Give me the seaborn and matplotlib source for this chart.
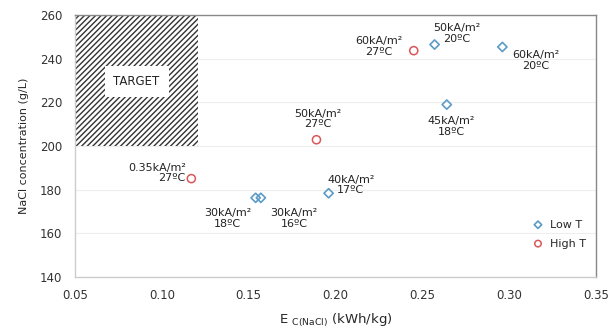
import numpy as np
import pandas as pd
import matplotlib
matplotlib.use("Agg")
import matplotlib.pyplot as plt
from matplotlib.patches import Rectangle
import seaborn as sns

# data
low_x = [0.154, 0.157, 0.196, 0.257, 0.296, 0.264]
low_y = [176.2, 176.2, 178.3, 246.4, 245.3, 218.9]
low_labels = ["30kA/m²\n18ºC", "30kA/m²\n16ºC", "40kA/m²\n17ºC",
              "50kA/m²\n20ºC", "60kA/m²\n20ºC", "45kA/m²\n18ºC"]
high_x = [0.117, 0.189, 0.245]
high_y = [185.0, 202.8, 243.6]
high_labels = ["0.35kA/m²\n27ºC", "50kA/m²\n27ºC", "60kA/m²\n27ºC"]

target_x = [0.05, 0.121]
target_y = [200, 260]

x_ticks = [0.05, 0.10, 0.15, 0.20, 0.25, 0.30, 0.35]
y_ticks = [140, 160, 180, 200, 220, 240, 260]

# label offsets in points (dx, dy, ha)
low_offsets = [(-20, -15, "center"), (24, -15, "center"), (16, 6, "center"),
               (16, 8, "center"), (24, -10, "center"), (3, -16, "center")]
high_offsets = [(-4, 4, "right"), (1, 15, "center"), (-25, 3, "center")]

sns.set_style("white")
plt.rcParams["font.family"] = ["DejaVu Sans"]

df_low = pd.DataFrame({"x": low_x, "y": low_y})
df_high = pd.DataFrame({"x": high_x, "y": high_y})

fig = plt.figure(figsize=(6.09, 3.30), dpi=100)
ax = fig.add_axes([0.123, 0.161, 0.856, 0.794])

blue = "#5b9bc8"
red = "#d9575a"

ax.add_patch(Rectangle((target_x[0], target_y[0]), target_x[1] - target_x[0],
                       target_y[1] - target_y[0], facecolor="white",
                       edgecolor="#333333", hatch="//////", lw=0, zorder=1))
ax.text(np.mean(target_x), 229.5, "TARGET", ha="center", va="center", fontsize=8.5,
        color="#222222", zorder=3,
        bbox=dict(boxstyle="square,pad=0.75", fc="white", ec="none"))

sns.scatterplot(data=df_low, x="x", y="y", marker="D", s=22, fc="none", ec=blue,
                linewidth=1.2, label="Low T", ax=ax, zorder=4)
sns.scatterplot(data=df_high, x="x", y="y", marker="o", s=34, fc="none", ec=red,
                linewidth=1.1, label="High T", ax=ax, zorder=4)

for xs, ys, labs, offs in [(low_x, low_y, low_labels, low_offsets),
                           (high_x, high_y, high_labels, high_offsets)]:
    for xv, yv, lab, (dx, dy, ha) in zip(xs, ys, labs, offs):
        ax.annotate(lab, (xv, yv), xytext=(dx, dy), textcoords="offset points",
                    ha=ha, va="center", fontsize=8, color="#222222",
                    linespacing=1.1)

ax.set_xlim(0.05, 0.35)
ax.set_ylim(140, 260)
ax.set_xticks(x_ticks)
ax.set_yticks(y_ticks)
ax.set_xticklabels(["%.2f" % t for t in x_ticks], fontsize=8.5, color="#333333")
ax.set_yticklabels([str(t) for t in y_ticks], fontsize=8.5, color="#333333")
ax.yaxis.grid(True, color="#eeeeee", lw=0.8)
ax.set_axisbelow(True)
ax.tick_params(axis="both", length=3, color="#cccccc", direction="out", pad=6)

for side in ["top", "right"]:
    ax.spines[side].set_color("#888888")
    ax.spines[side].set_linewidth(1.0)
for side in ["left", "bottom"]:
    ax.spines[side].set_color("#cccccc")
    ax.spines[side].set_linewidth(1.0)

ax.set_xlabel(r"E $_{\mathregular{C(NaCl)}}$ (kWh/kg)", fontsize=9.5, labelpad=7)
ax.set_ylabel("NaCl concentration (g/L)", fontsize=8, labelpad=8)

leg = ax.legend(loc="lower right", bbox_to_anchor=(1.0, 0.07), frameon=False,
                fontsize=8, handletextpad=0.1, labelspacing=0.8, markerscale=0.8)

fig.savefig("out.png", dpi=100)
